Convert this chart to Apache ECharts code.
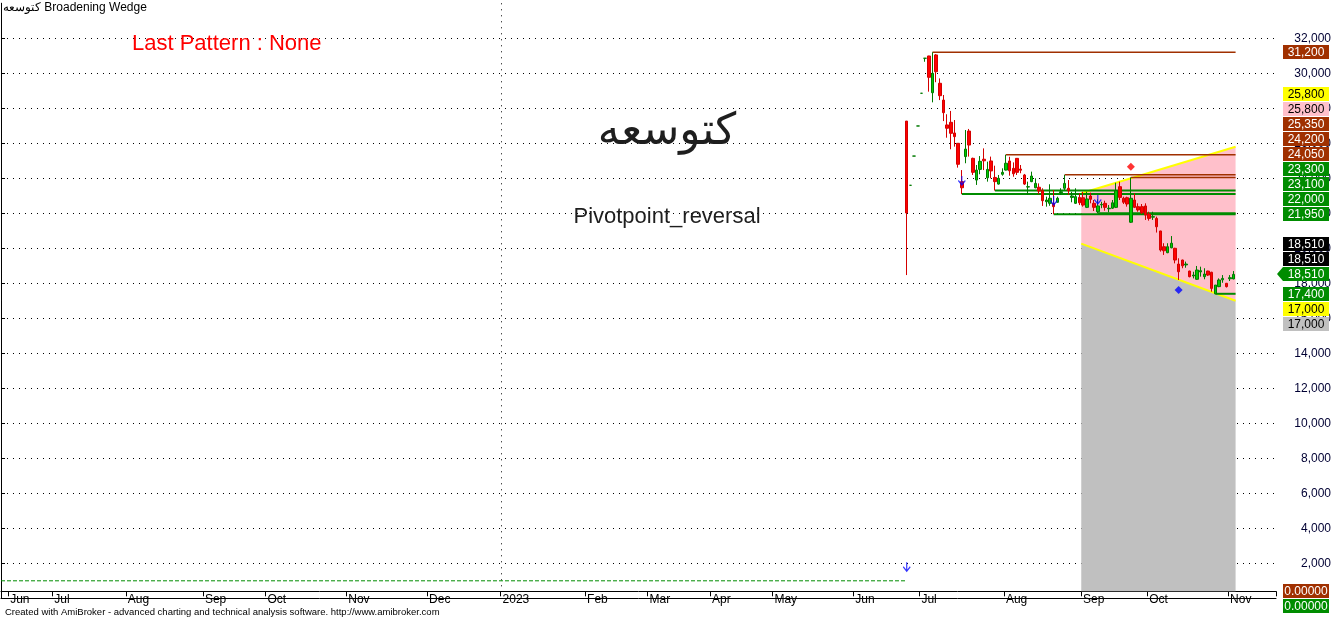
<!DOCTYPE html>
<html><head><meta charset="utf-8">
<script src="https://cdn.jsdelivr.net/npm/echarts@6/dist/echarts.min.js"></script>
<style>html,body{margin:0;padding:0;background:#fff}#c{width:1336px;height:619px}</style>
</head><body><div id="c"></div>
<script>
// ================= DATA =================
const monthLabels = ['Jun','Jul','Aug','Sep','Oct','Nov','Dec','2023','Feb','Mar','Apr','May','Jun','Jul','Aug','Sep','Oct','Nov'];
const monthStartSlot = [2,14,34,55,72,94,116,136,159,176,193,210,232,250,273,294,312,334];
const slotCount = 347;
const firstBarSlot = 246;

const opens  = [27270,23600,25270,26990,28860,30860,30990,28890,31050,29430,28470,27050,27200,26590,26000,23810,25240,26700,25140,23900,24510,25090,24030,24990,24050,23670,24230,24470,24990,24570,25140,24530,24190,23500,23810,23460,23490,23290,22660,22570,22570,22630,23180,23430,23430,22910,22570,22910,22890,22340,22990,22570,22090,22480,22570,22260,22290,22340,23520,22860,22890,21490,22760,22380,22380,22420,21960,21780,21710,20990,20090,19750,20030,20000,19100,19330,19050,18700,18420,18230,18650,18380,18700,18630,17400,17810,18200,18000,18260,18250];
const highs  = [27270,23600,25270,26990,28860,30860,31000,31200,31100,29710,28760,27660,27850,27330,26000,24470,26760,26820,25180,24760,25270,25710,24950,25240,24720,24190,24570,25350,25230,24910,25150,24760,24250,23810,24380,24000,23710,23430,22950,23660,23330,22950,23430,24200,23900,23230,23430,23140,23230,23230,23180,22760,22800,22660,22720,22470,22760,23750,23810,22950,22950,24050,23140,22570,22530,22570,22090,22090,21810,21000,20290,20290,20700,20030,19430,19350,19240,18720,18660,18990,18950,18860,18720,18660,17900,18280,18470,18020,18470,18700];
const lows   = [18470,23600,25270,26990,28860,30660,28950,28340,29490,28470,27270,26320,25660,25810,24610,23100,24860,25240,24190,23620,24230,24470,23810,24000,23300,23640,24150,24450,24150,24090,24190,24290,23620,23050,23780,23430,23090,22420,22380,22430,21950,22600,23050,23330,23050,22630,22530,22470,22380,22300,22570,22130,22000,22290,22150,22060,22250,22300,22760,22530,22380,21450,22300,22090,21960,21620,21580,21620,20900,19810,19620,19720,20000,19140,18190,18860,18890,18340,18280,18200,18380,18230,18420,17520,17400,17780,18030,17760,18130,18230];
const closes = [22020,23600,25270,26990,28860,30860,29770,30000,30090,28720,27750,26860,26570,26380,24800,23460,25670,25900,24340,24470,24970,25000,24510,24420,23810,24000,24340,24860,24430,24260,24340,24460,23670,23520,24130,23710,23270,22720,22760,22860,22380,22860,23230,23710,23290,22990,22950,22600,22470,22820,22800,22340,22420,22510,22340,22290,22600,23290,22910,22630,22530,22860,22340,22190,22030,21900,21710,21810,21230,19900,19860,20090,20290,19330,18660,19000,19100,18380,18470,18760,18720,18530,18470,17710,17900,18190,18280,17810,18320,18510];

// support / resistance levels (bar offset where each starts)
const levelValues   = [31200, 25350, 24200, 24050, 23300, 23100, 22000, 21950, 17400];
const levelStartBar = [7, 27, 43, 61, 24, 15, 52, 40, 84];
const levelKinds    = ['res','res','res','res','sup','sup','sup','sup','sup'];

// broadening wedge (bar offsets, boundary values)
const wedgeBars  = [48, 89];
const wedgeUpper = [23150, 25800];
const wedgeLower = [20270, 17000];

// pivot markers
const arrowBars   = [0, 15, 40, 52];
const arrowValues = [1800, 23870, 22730, 22790];
const redDiamondBars = [61];  const redDiamondValues = [24660];
const blueDiamondBars = [74]; const blueDiamondValues = [17620];

// lower indicator line (before price history)
const baseLineValue = 1000;

// right axis value tags
const tagValues = [31200, 25800, 25800, 25350, 24200, 24050, 23300, 23100, 22000, 21950, 18510, 18510, 18510, 17400, 17000, 17000, 0, 0];
const tagKinds  = ['brown','yellow','pink','brown','brown','brown','green','green','green','green','black','black','close','green','yellow','gray','brown','green'];

// ================= STYLE / LAYOUT =================
const FONT = '"Liberation Sans", Arial, sans-serif';
const GRID_RIGHT = 60;
const X_AXIS_SHIFT = -7;
const C = { brown:'#a03000', green:'#008c00', pink:'#ffc0cb', gray:'#c0c0c0', yellow:'#ffff00', black:'#000000' };
const TAG_STYLE = {
  brown:{bg:C.brown, fg:'#ffffff'}, green:{bg:C.green, fg:'#ffffff'}, close:{bg:C.green, fg:'#ffffff'},
  black:{bg:'#000000', fg:'#ffffff'}, yellow:{bg:C.yellow, fg:'#000000'}, pink:{bg:C.pink, fg:'#000000'},
  gray:{bg:C.gray, fg:'#000000'}
};

const categories = Array.from({length: slotCount}, () => '');
monthStartSlot.forEach((s, i) => { categories[s] = monthLabels[i]; });
const lastSlot = firstBarSlot + opens.length - 1;
const yearSlot = monthStartSlot[monthLabels.indexOf('2023')];

const candleData = opens.map((o, i) => [firstBarSlot + i, o, closes[i], lows[i], highs[i]]);
const levelData = levelValues.map((v, i) => [firstBarSlot + levelStartBar[i], lastSlot, v]);
const wedgeData = [[firstBarSlot + wedgeBars[0], firstBarSlot + wedgeBars[1], wedgeUpper[0], wedgeUpper[1], wedgeLower[0], wedgeLower[1]]];
const arrowData = arrowBars.map((b, i) => [firstBarSlot + b, arrowValues[i]]);
const redData = redDiamondBars.map((b, i) => [firstBarSlot + b, redDiamondValues[i]]);
const blueData = blueDiamondBars.map((b, i) => [firstBarSlot + b, blueDiamondValues[i]]);

const dotted = { color:'#000', width:1, type:[1,5] };

const chart = echarts.init(document.getElementById('c'), null, {renderer:'canvas'});

chart.setOption({
  animation: false,
  backgroundColor: '#ffffff',
  grid: { left: 1, right: GRID_RIGHT, top: 3.3, bottom: 20.7, containLabel: false, outerBoundsMode: 'none' },
  xAxis: [{
    type: 'category', data: categories, boundaryGap: true, position: 'bottom', offset: X_AXIS_SHIFT,
    axisLine: { show: true, onZero: false, lineStyle: { color: '#000', width: 1 } },
    axisTick: { show: true, length: 5, interval: (i, v) => v !== '', lineStyle: { color: '#000' } },
    axisLabel: { show: true, interval: (i, v) => v !== '', align: 'left', margin: 2, color: '#000', fontSize: 12, fontFamily: FONT },
    splitLine: { show: false }
  }, {
    type: 'value', position: 'top', min: 0, max: 1, offset: 2.8,
    axisLine: { show: true, lineStyle: { color: '#000' } }, axisTick: { show: false }, axisLabel: { show: false }, splitLine: { show: false }
  }],
  yAxis: [{
    type: 'value', position: 'right', min: 0, max: 34000, interval: 2000, scale: false,
    axisLine: { show: true, lineStyle: { color: '#000', width: 1 } },
    axisTick: { show: true, length: 4, lineStyle: { color: '#000' } },
    axisLabel: { show: true, showMinLabel: false, showMaxLabel: false, align: 'right', margin: 55, color: '#000033', fontSize: 12, fontFamily: FONT,
      formatter: v => v.toLocaleString('en-US') },
    splitLine: { show: true, showMinLine: false, showMaxLine: false, lineStyle: dotted }
  }, {
    type: 'value', position: 'left', min: 0, max: 34000,
    axisLine: { show: true, lineStyle: { color: '#000' } }, axisTick: { show: false }, axisLabel: { show: false }, splitLine: { show: false }
  }],
  series: [
    { // broadening wedge area and edges
      type: 'custom', z: 1, data: wedgeData, silent: true,
      renderItem: (params, api) => {
        const s = api.value(0), e = api.value(1);
        const bw = api.size([1, 0])[0];
        const pU1 = api.coord([s, api.value(2)]), pU2 = api.coord([e, api.value(3)]);
        const pL1 = api.coord([s, api.value(4)]), pL2 = api.coord([e, api.value(5)]);
        const xs = pU1[0] - bw / 2, xe = pU2[0] + bw / 2;
        const yB = params.coordSys.y + params.coordSys.height + X_AXIS_SHIFT;
        return { type: 'group', children: [
          { type: 'polygon', shape: { points: [[xs, pU1[1]], [xe, pU2[1]], [xe, pL2[1]], [xs, pL1[1]]] }, style: { fill: C.pink } },
          { type: 'polygon', shape: { points: [[xs, pL1[1]], [xe, pL2[1]], [xe, yB], [xs, yB]] }, style: { fill: C.gray } },
          { type: 'line', shape: { x1: xs, y1: pU1[1], x2: xe, y2: pU2[1] }, style: { stroke: C.yellow, lineWidth: 2 } },
          { type: 'line', shape: { x1: xs, y1: pL1[1], x2: xe, y2: pL2[1] }, style: { stroke: C.yellow, lineWidth: 2 } }
        ]};
      }
    },
    { // year separator
      type: 'custom', z: 1, data: [[yearSlot, 0]], silent: true,
      renderItem: (params, api) => {
        const bw = api.size([1, 0])[0];
        const x = Math.round(api.coord([api.value(0), 0])[0] - bw / 2) + 0.5;
        const cs = params.coordSys;
        return { type: 'line', shape: { x1: x, y1: cs.y, x2: x, y2: cs.y + cs.height + X_AXIS_SHIFT }, style: { stroke: '#000', lineWidth: 1, lineDash: [1, 5] } };
      }
    },
    { // lower indicator dashed line
      type: 'custom', z: 2, data: [[0, firstBarSlot, baseLineValue]], silent: true,
      renderItem: (params, api) => {
        const bw = api.size([1, 0])[0];
        const p1 = api.coord([api.value(0), api.value(2)]), p2 = api.coord([api.value(1), api.value(2)]);
        return { type: 'line', shape: { x1: p1[0] - bw / 2, y1: p1[1], x2: p2[0], y2: p2[1] }, style: { stroke: C.green, lineWidth: 1, lineDash: [4, 2] } };
      }
    },
    { // support / resistance levels
      type: 'custom', z: 2, data: levelData, silent: true,
      renderItem: (params, api) => {
        const bw = api.size([1, 0])[0];
        const v = api.value(2);
        const p1 = api.coord([api.value(0), v]), p2 = api.coord([api.value(1), v]);
        const res = levelKinds[params.dataIndex] === 'res';
        return { type: 'line', shape: { x1: p1[0], y1: p1[1], x2: p2[0] + bw / 2, y2: p2[1] },
          style: { stroke: res ? C.brown : C.green, lineWidth: res ? 1.5 : 2 } };
      }
    },
    {
      type: 'candlestick', z: 3, data: candleData, encode: { x: 0, y: [1, 2, 3, 4] }, barWidth: 3,
      itemStyle: { color: '#00cc00', color0: '#ff0000', borderColor: '#007a00', borderColor0: '#d40000', borderWidth: 1 }
    },
    {
      type: 'scatter', z: 4, data: arrowData, symbol: 'path://M5,0L5,12M0,6L5,12L10,6', symbolSize: [7, 9],
      itemStyle: { color: 'rgba(0,0,0,0)', borderColor: '#0000ff', borderWidth: 1.3 }
    },
    { type: 'scatter', z: 4, data: redData, symbol: 'diamond', symbolSize: 8, itemStyle: { color: '#ff0000' } },
    { type: 'scatter', z: 4, data: blueData, symbol: 'diamond', symbolSize: 8, itemStyle: { color: '#0000ff' } }
  ]
});

// ---- right-axis value tags (stacked away from the close tag) ----
function buildGraphics() {
  const axisX = chart.getWidth() - GRID_RIGHT;
  const floorY = chart.convertToPixel({ yAxisIndex: 0 }, 0) + X_AXIS_SHIFT;
  const items = tagValues.map((v, i) => ({ v, i, kind: tagKinds[i], y: Math.min(chart.convertToPixel({ yAxisIndex: 0 }, v), floorY) }));
  const close = items.find(t => t.kind === 'close');
  const H = 15;
  const above = items.filter(t => t !== close && t.v >= close.v).sort((a, b) => a.v - b.v || b.i - a.i);
  const below = items.filter(t => t !== close && t.v < close.v).sort((a, b) => b.v - a.v || a.i - b.i);
  let prev = close.y;
  above.forEach(t => { t.y = Math.min(t.y, prev - H); prev = t.y; });
  prev = close.y;
  below.forEach(t => { t.y = Math.max(t.y, prev + H); prev = t.y; });

  const els = [];
  items.forEach(t => {
    const st = TAG_STYLE[t.kind];
    const x0 = axisX + 7, x1 = axisX + 53, y0 = Math.round(t.y) - 7, y1 = Math.round(t.y) + 7;
    if (t.kind === 'close') {
      els.push({ type: 'polygon', z: 100, shape: { points: [[axisX + 1, (y0 + y1) / 2], [x0, y0], [x1, y0], [x1, y1], [x0, y1]] }, style: { fill: st.bg } });
    } else {
      els.push({ type: 'rect', z: 100, shape: { x: x0, y: y0, width: x1 - x0, height: y1 - y0 }, style: { fill: st.bg } });
    }
    els.push({ type: 'text', z: 101, x: (x0 + x1) / 2, y: (y0 + y1) / 2 + 0.5,
      style: { text: t.v === 0 ? t.v.toFixed(5) : t.v.toLocaleString('en-US'), font: '12px ' + FONT, fill: st.fg, align: 'center', verticalAlign: 'middle' } });
  });

  els.push({ type: 'text', z: 50, x: 3, y: 8, style: { text: 'كتوسعه Broadening Wedge', font: '12px ' + FONT, fill: '#000', verticalAlign: 'middle' } });
  els.push({ type: 'text', z: 50, x: 132, y: 44, style: { text: 'Last Pattern : None', font: '22px ' + FONT, fill: '#ff0000', verticalAlign: 'middle' } });
  els.push({ type: 'text', z: 50, x: 667, y: 133, style: { text: 'كتوسعه', font: '44px "DejaVu Sans", sans-serif', fill: '#1e1e1e', align: 'center', verticalAlign: 'middle' } });
  els.push({ type: 'text', z: 50, x: 667, y: 217, style: { text: 'Pivotpoint_reversal', font: '22px ' + FONT, fill: '#1e1e1e', align: 'center', verticalAlign: 'middle' } });
  els.push({ type: 'text', z: 50, x: 5, y: 612, style: { text: 'Created with AmiBroker - advanced charting and technical analysis software. http://www.amibroker.com', font: '9.5px ' + FONT, fill: '#000', verticalAlign: 'middle' } });
  return els;
}
chart.setOption({ graphic: { elements: buildGraphics() } });
</script>
</body></html>
